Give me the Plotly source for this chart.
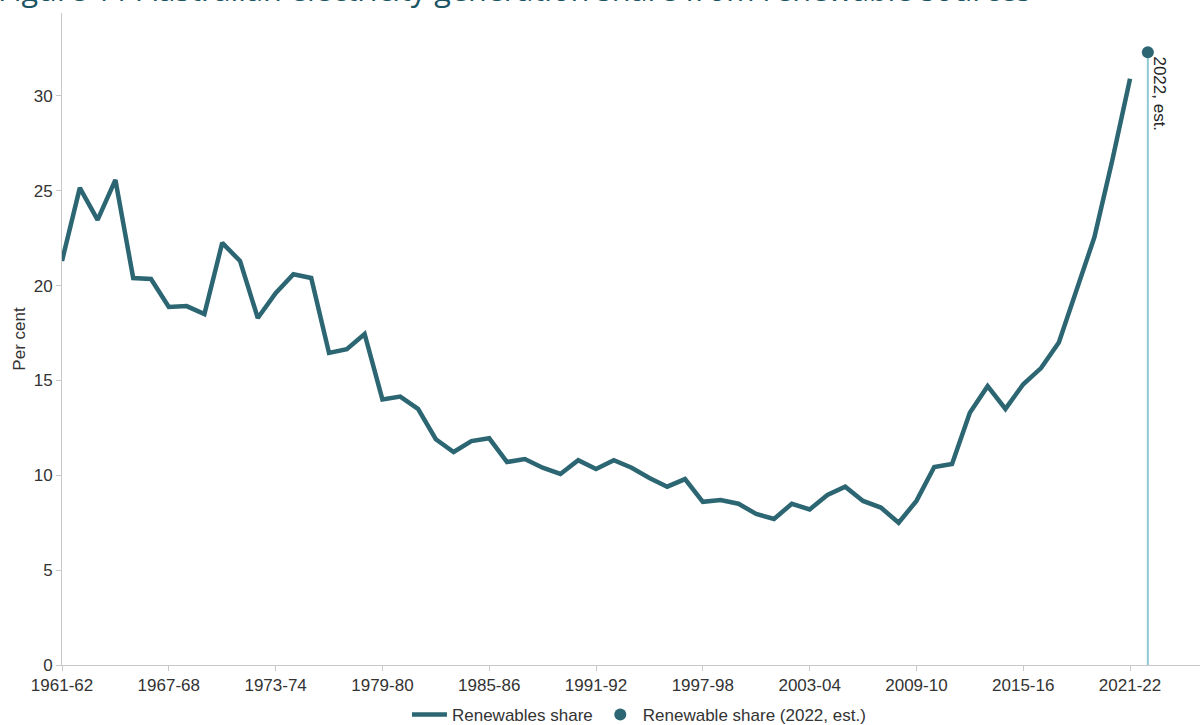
import plotly.graph_objects as go

years = [f"{y}-{str(y+1)[-2:]}" for y in range(1961, 2022)]
share = [21.3, 25.15, 23.46, 25.57, 20.4, 20.35, 18.87, 18.92, 18.5, 22.25,
         21.3, 18.29, 19.6, 20.6, 20.4, 16.45, 16.65, 17.45, 14.0, 14.15,
         13.5, 11.9, 11.23, 11.8, 11.95, 10.7, 10.86, 10.4, 10.07, 10.8,
         10.33, 10.8, 10.4, 9.86, 9.4, 9.8, 8.6, 8.7, 8.5, 7.96,
         7.7, 8.5, 8.2, 8.96, 9.4, 8.65, 8.3, 7.5, 8.65, 10.44,
         10.6, 13.3, 14.7, 13.5, 14.8, 15.65, 17.0, 19.8, 22.56, 26.6,
         30.9]
est_label = "2022, est."
est_value = 32.3
tick_labels = ["1961-62", "1967-68", "1973-74", "1979-80", "1985-86", "1991-92",
               "1997-98", "2003-04", "2009-10", "2015-16", "2021-22"]

x_idx = list(range(len(years)))
est_x = len(years)  # position after last year
tick_vals = [years.index(t) for t in tick_labels]

teal = "#2b6672"
light = "#8fcad3"
font_fam = "Liberation Sans, Arial"

fig = go.Figure()
fig.add_trace(go.Scatter(
    x=x_idx, y=share, mode="lines", name="Renewables share",
    line=dict(color=teal, width=4.5), text=years))
fig.add_trace(go.Scatter(
    x=[est_x, est_x], y=[0, est_value], mode="lines", showlegend=False,
    line=dict(color=light, width=2), hoverinfo="skip"))
fig.add_trace(go.Scatter(
    x=[est_x], y=[est_value], mode="markers", name="Renewable share (2022, est.)",
    marker=dict(color=teal, size=12)))

fig.add_annotation(x=est_x, y=est_value, xref="x", yref="y", text=est_label,
                   textangle=90, showarrow=False, xanchor="left", yanchor="top",
                   xshift=0, yshift=-2,
                   font=dict(family=font_fam, size=17, color="#222"))

fig.add_annotation(xref="paper", yref="paper", x=-66/1138, y=1 + 1/652,
                   xanchor="left", yanchor="bottom", showarrow=False,
                   text="Figure 11 Australian electricity generation share from renewable sources",
                   font=dict(family="Open Sans", size=30.6, color="#1b5563"))

axis_font = dict(family=font_fam, size=17, color="#333")
fig.update_layout(
    width=1200, height=725,
    margin=dict(l=62, r=0, t=13, b=60, autoexpand=False),
    paper_bgcolor="white", plot_bgcolor="white",
    showlegend=True,
    legend=dict(orientation="h", x=0.507, xanchor="center", y=-0.0765, yanchor="middle",
                font=dict(family=font_fam, size=17, color="#333"),
                itemwidth=35),
    xaxis=dict(range=[0, 63.93], tickvals=tick_vals, ticktext=tick_labels,
               showgrid=False, zeroline=False, showline=True, linecolor="#c8c8c8",
               linewidth=1, ticks="outside", ticklen=5, tickcolor="#c8c8c8",
               tickfont=axis_font, automargin=False),
    yaxis=dict(range=[0, 34.37], tickvals=[0, 5, 10, 15, 20, 25, 30],
               showgrid=False, zeroline=False, showline=True, linecolor="#c8c8c8",
               linewidth=1, ticks="outside", ticklen=5, tickcolor="#c8c8c8",
               tickfont=axis_font, automargin=False,
               title=dict(text="Per cent", font=dict(family=font_fam, size=17, color="#333"),
                          standoff=3)),
)

fig.write_html("out.html", config={"displayModeBar": False},
               post_script="document.body.style.margin='0';")
